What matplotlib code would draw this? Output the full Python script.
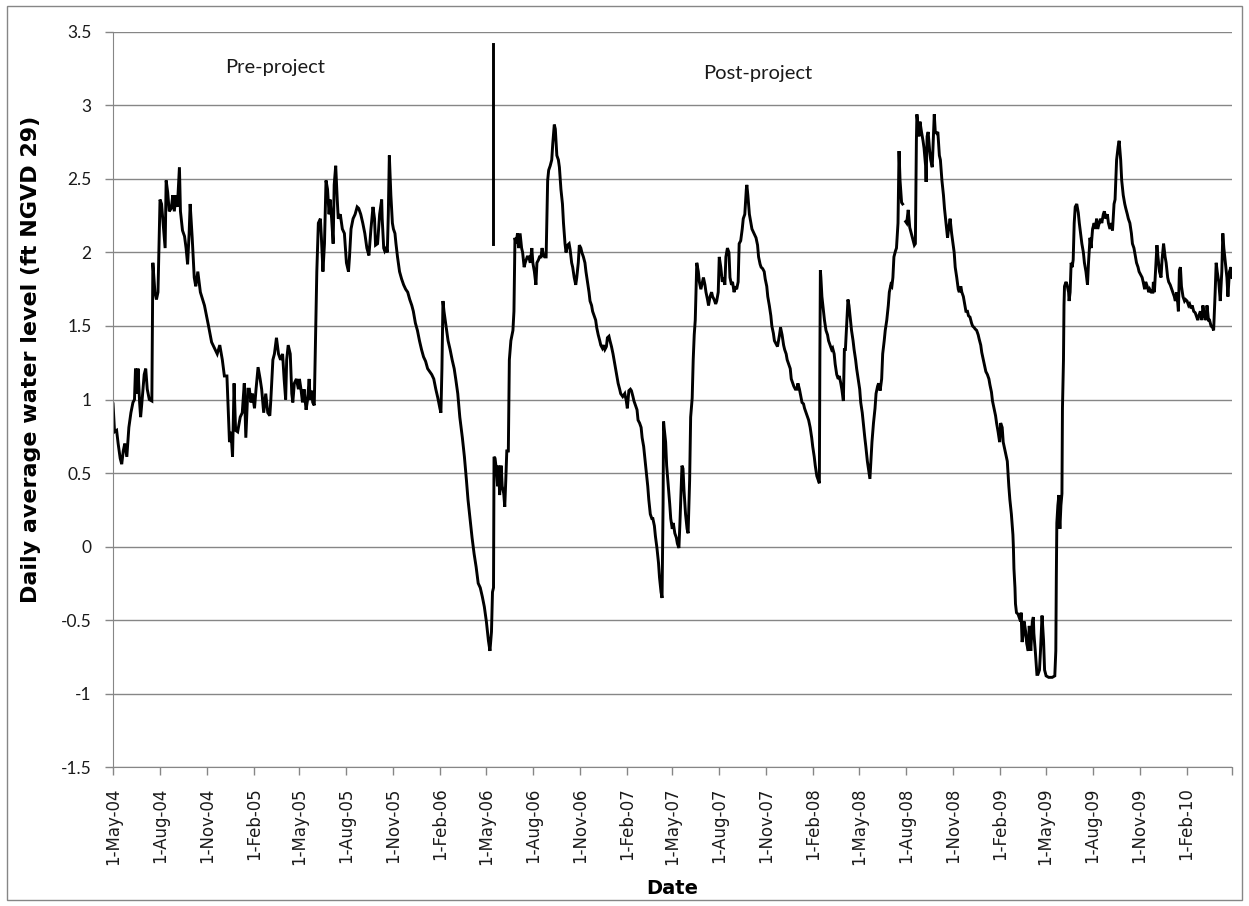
import numpy as np
import pandas as pd
import matplotlib.pyplot as plt
from matplotlib.patches import Rectangle

# Daily average water level, (days since 1-May-2004, ft NGVD 29)
start = np.datetime64("2004-05-01")

pre_project = [
    (0, 0.97), (3, 0.78), (7, 0.79), (10, 0.70), (14, 0.60), (17, 0.56), (20, 0.65), (23, 0.70),
    (27, 0.61), (31, 0.81), (35, 0.91), (39, 0.98), (42, 1.00), (44, 1.21), (47, 1.04), (49, 1.21),
    (52, 0.98), (54, 0.88), (57, 1.00), (61, 1.17), (64, 1.21), (67, 1.07), (71, 1.00), (76, 0.99),
    (78, 1.93), (82, 1.73), (85, 1.68), (88, 1.73), (90, 2.03), (92, 2.36), (95, 2.33), (99, 2.16),
    (102, 2.03), (104, 2.49), (107, 2.41), (110, 2.28), (114, 2.30), (117, 2.39), (120, 2.28),
    (123, 2.39), (126, 2.31), (130, 2.58), (132, 2.28), (136, 2.15), (140, 2.11), (143, 2.03),
    (146, 1.92), (149, 2.13), (151, 2.33), (155, 2.10), (159, 1.83), (162, 1.77), (166, 1.87),
    (171, 1.73), (179, 1.64), (187, 1.50), (193, 1.39), (200, 1.34), (204, 1.31), (209, 1.37),
    (214, 1.27), (218, 1.16), (223, 1.16), (228, 0.71), (231, 0.78), (234, 0.61), (237, 1.11),
    (240, 0.79), (244, 0.78), (249, 0.88), (253, 0.91), (257, 1.11), (260, 0.74), (264, 1.07),
    (267, 1.07), (270, 0.98), (273, 1.04), (277, 0.94), (280, 1.07), (284, 1.22), (288, 1.14),
    (291, 1.07), (295, 0.91), (299, 1.04), (303, 0.91), (307, 0.89), (309, 1.00), (313, 1.27),
    (316, 1.31), (320, 1.42), (324, 1.31), (328, 1.27), (332, 1.31), (335, 1.14), (338, 1.00),
    (340, 1.27), (343, 1.37), (347, 1.31), (350, 1.04), (352, 0.98), (355, 1.11), (359, 1.14),
    (363, 1.07), (365, 1.14), (368, 1.07), (371, 0.98), (374, 1.07), (378, 0.93), (381, 1.00),
    (384, 1.14), (386, 1.00), (389, 1.06), (391, 0.98), (394, 0.96), (397, 1.50), (399, 1.87),
    (402, 2.20), (406, 2.23), (408, 2.10), (411, 1.87), (414, 2.06), (417, 2.49), (420, 2.43),
    (423, 2.26), (425, 2.36), (428, 2.23), (431, 2.06), (433, 2.46), (436, 2.59), (439, 2.36),
    (441, 2.23), (445, 2.26), (449, 2.16), (453, 2.13), (457, 1.93), (461, 1.87), (463, 1.97),
    (466, 2.16), (470, 2.23), (474, 2.26), (478, 2.31), (481, 2.30), (485, 2.26), (489, 2.20),
    (493, 2.13), (497, 2.03), (501, 1.98), (505, 2.16), (509, 2.31), (512, 2.23), (514, 2.05),
    (518, 2.06), (522, 2.26), (526, 2.36), (527, 2.23), (530, 2.03), (532, 2.01), (535, 2.03),
    (537, 2.00), (539, 2.26), (541, 2.66), (544, 2.39), (547, 2.20), (549, 2.16), (552, 2.13),
    (554, 2.06), (557, 1.97), (561, 1.87), (565, 1.82), (569, 1.78), (573, 1.75), (577, 1.73),
    (581, 1.68), (585, 1.64), (588, 1.60), (592, 1.52), (596, 1.47), (600, 1.40), (604, 1.34),
    (608, 1.29), (612, 1.26), (616, 1.21), (620, 1.19), (624, 1.17), (628, 1.14), (632, 1.07),
    (636, 1.01), (640, 0.94), (642, 0.91), (644, 1.21), (646, 1.67), (648, 1.60), (652, 1.50),
    (656, 1.40), (660, 1.34), (664, 1.27), (668, 1.21), (671, 1.14), (675, 1.04), (679, 0.88),
    (684, 0.74), (688, 0.61), (692, 0.45), (695, 0.32), (699, 0.19), (703, 0.06), (707, -0.05),
    (711, -0.14), (715, -0.25), (719, -0.28), (723, -0.34), (727, -0.41), (731, -0.51),
    (735, -0.64), (738, -0.71), (741, -0.58), (743, -0.31), (745, -0.28),
]

# single spike reading at the start of the project
spike = [(744, 2.06), (744, 3.42)]

post_project_a = [
    (746, 0.61), (748, 0.60), (751, 0.51), (753, 0.41), (755, 0.55), (757, 0.35), (760, 0.55),
    (762, 0.41), (765, 0.36), (767, 0.27), (769, 0.45), (771, 0.65), (774, 0.65), (776, 1.27),
    (779, 1.40), (783, 1.47), (785, 1.60), (787, 2.10), (789, 2.06), (792, 2.13), (794, 2.03),
    (797, 2.13), (800, 2.03), (802, 2.00), (805, 1.90), (807, 1.93), (811, 1.97), (814, 1.97),
    (817, 1.93), (820, 2.03), (822, 1.93), (825, 1.87), (828, 1.78), (830, 1.93), (833, 1.95),
    (835, 1.97), (838, 1.97), (840, 2.03), (843, 1.98), (845, 1.97), (848, 1.97), (851, 2.49),
    (853, 2.56), (856, 2.59), (859, 2.63), (861, 2.74), (864, 2.87), (866, 2.84), (869, 2.66),
    (872, 2.63), (874, 2.58), (877, 2.43), (880, 2.33), (882, 2.20), (885, 2.06), (887, 2.00),
    (890, 2.05), (893, 2.06), (895, 2.02), (898, 1.93), (900, 1.90), (903, 1.83), (906, 1.78),
    (908, 1.83), (911, 1.93), (913, 2.05), (916, 2.03), (918, 2.00), (921, 1.97), (924, 1.93),
    (926, 1.87), (929, 1.80), (932, 1.73), (934, 1.67), (937, 1.64), (939, 1.60), (942, 1.57),
    (945, 1.54), (947, 1.49), (950, 1.44), (953, 1.40), (955, 1.37), (958, 1.35), (960, 1.37),
    (963, 1.34), (966, 1.36), (968, 1.42), (971, 1.43), (973, 1.40), (976, 1.36), (979, 1.31),
    (981, 1.27), (984, 1.21), (986, 1.17), (989, 1.11), (992, 1.07), (994, 1.04), (998, 1.02),
    (1002, 1.04), (1005, 0.99), (1007, 0.94), (1010, 1.06), (1013, 1.07), (1015, 1.06),
    (1018, 1.02), (1020, 0.99), (1023, 0.96), (1026, 0.93), (1028, 0.86), (1031, 0.84),
    (1034, 0.81), (1036, 0.74), (1039, 0.68), (1041, 0.61), (1044, 0.51), (1047, 0.41),
    (1049, 0.32), (1052, 0.22), (1055, 0.19), (1057, 0.19), (1060, 0.14), (1062, 0.07),
    (1065, -0.01), (1068, -0.11), (1070, -0.21), (1073, -0.31), (1075, -0.35), (1077, 0.29),
    (1078, 0.85), (1079, 0.81), (1082, 0.71), (1084, 0.55), (1087, 0.42), (1090, 0.29),
    (1092, 0.19), (1095, 0.12), (1097, 0.16), (1100, 0.09), (1103, 0.06), (1105, 0.02),
    (1108, -0.01), (1110, 0.16), (1113, 0.45), (1114, 0.55), (1116, 0.53), (1118, 0.38),
    (1121, 0.22), (1124, 0.12), (1126, 0.09), (1129, 0.45), (1131, 0.88), (1134, 1.01),
    (1136, 1.27), (1138, 1.44), (1140, 1.54), (1143, 1.93), (1146, 1.87), (1148, 1.80),
    (1151, 1.75), (1154, 1.80), (1156, 1.83), (1159, 1.78), (1161, 1.73), (1164, 1.68),
    (1166, 1.64), (1169, 1.70), (1172, 1.73), (1174, 1.70), (1177, 1.68), (1180, 1.65),
    (1182, 1.67), (1185, 1.73), (1187, 1.97), (1190, 1.90), (1193, 1.80), (1195, 1.83),
    (1198, 1.78), (1200, 1.97), (1203, 2.03), (1206, 2.00), (1208, 1.83), (1211, 1.78),
    (1213, 1.80), (1216, 1.73), (1219, 1.77), (1221, 1.75), (1224, 1.80), (1226, 2.06),
    (1229, 2.08), (1232, 2.16), (1234, 2.23), (1237, 2.26), (1240, 2.43), (1241, 2.46),
    (1243, 2.39), (1246, 2.26), (1249, 2.20), (1251, 2.16), (1255, 2.13), (1259, 2.10),
    (1262, 2.05), (1264, 1.97), (1267, 1.92), (1269, 1.90), (1272, 1.89), (1275, 1.87),
    (1277, 1.82), (1280, 1.77), (1282, 1.70), (1285, 1.64), (1288, 1.57), (1290, 1.50),
    (1293, 1.45), (1295, 1.40), (1298, 1.38), (1301, 1.36), (1305, 1.44), (1307, 1.49),
    (1310, 1.44), (1313, 1.37), (1315, 1.34), (1318, 1.31), (1320, 1.27), (1323, 1.24),
    (1326, 1.21), (1328, 1.14), (1331, 1.11), (1333, 1.09), (1336, 1.07), (1339, 1.07),
    (1341, 1.11), (1344, 1.07), (1349, 0.98), (1352, 0.97), (1354, 0.94), (1357, 0.91),
    (1360, 0.88), (1362, 0.86), (1365, 0.81), (1368, 0.74), (1370, 0.68), (1373, 0.61),
    (1375, 0.55), (1378, 0.48), (1381, 0.45), (1383, 0.43), (1384, 1.27), (1385, 1.88),
    (1386, 1.83), (1388, 1.70), (1391, 1.60), (1393, 1.54), (1396, 1.47), (1399, 1.44),
    (1401, 1.40), (1404, 1.37), (1407, 1.34), (1409, 1.35), (1412, 1.31), (1414, 1.24),
    (1417, 1.17), (1420, 1.14), (1422, 1.16), (1425, 1.11), (1427, 1.07), (1430, 0.99),
    (1432, 1.34), (1434, 1.34), (1437, 1.54), (1439, 1.68), (1441, 1.64), (1443, 1.57),
    (1446, 1.47), (1449, 1.40), (1451, 1.34), (1454, 1.27), (1456, 1.21), (1459, 1.14),
    (1462, 1.07), (1464, 0.98), (1467, 0.91), (1469, 0.84), (1472, 0.74), (1474, 0.68),
    (1477, 0.58), (1480, 0.51), (1482, 0.46), (1484, 0.58), (1486, 0.71), (1489, 0.84),
    (1492, 0.94), (1494, 1.04), (1497, 1.09), (1499, 1.11), (1502, 1.06), (1505, 1.14),
    (1507, 1.31), (1510, 1.40), (1512, 1.47), (1515, 1.54), (1518, 1.64), (1520, 1.73),
    (1523, 1.78), (1525, 1.77), (1527, 1.83), (1529, 1.97), (1532, 2.01), (1534, 2.03),
    (1537, 2.20), (1539, 2.69), (1541, 2.49), (1544, 2.34), (1546, 2.33),
]

# readings resume after a short gap
post_project_b = [
    (1552, 2.21), (1554, 2.20), (1557, 2.29), (1560, 2.17), (1563, 2.13), (1566, 2.09),
    (1569, 2.05), (1571, 2.06), (1573, 2.76), (1574, 2.94), (1576, 2.87), (1578, 2.79),
    (1580, 2.89), (1583, 2.82), (1586, 2.76), (1588, 2.71), (1591, 2.59), (1592, 2.48),
    (1594, 2.79), (1596, 2.82), (1599, 2.69), (1601, 2.63), (1604, 2.58), (1606, 2.76),
    (1608, 2.94), (1610, 2.82), (1613, 2.81), (1615, 2.82), (1618, 2.66), (1620, 2.63),
    (1623, 2.49), (1626, 2.39), (1628, 2.30), (1631, 2.20), (1634, 2.10), (1636, 2.16),
    (1639, 2.23), (1642, 2.13), (1644, 2.08), (1647, 2.00), (1649, 1.90), (1652, 1.83),
    (1655, 1.75), (1657, 1.73), (1660, 1.77), (1662, 1.73), (1665, 1.70), (1668, 1.64),
    (1670, 1.60), (1673, 1.60), (1675, 1.57), (1678, 1.56), (1681, 1.52), (1683, 1.50),
    (1686, 1.49), (1688, 1.48), (1691, 1.47), (1694, 1.44), (1696, 1.41), (1699, 1.37),
    (1701, 1.32), (1704, 1.27), (1707, 1.22), (1709, 1.19), (1712, 1.17), (1715, 1.14),
    (1717, 1.10), (1720, 1.05), (1722, 0.99), (1725, 0.94), (1728, 0.89), (1730, 0.84),
    (1733, 0.78), (1736, 0.71), (1738, 0.84), (1741, 0.81), (1743, 0.71), (1746, 0.66),
    (1748, 0.63), (1751, 0.58), (1754, 0.41), (1756, 0.32), (1759, 0.22), (1762, 0.08),
    (1763, -0.01), (1764, -0.15), (1766, -0.28), (1767, -0.39), (1769, -0.45), (1772, -0.46),
    (1774, -0.48), (1777, -0.51), (1778, -0.45), (1780, -0.65), (1782, -0.60), (1784, -0.51),
    (1787, -0.58), (1789, -0.66), (1792, -0.71), (1794, -0.54), (1797, -0.71), (1800, -0.51),
    (1802, -0.48), (1803, -0.59), (1806, -0.72), (1809, -0.87), (1811, -0.87), (1814, -0.84),
    (1816, -0.71), (1819, -0.47), (1822, -0.64), (1824, -0.84), (1827, -0.88), (1832, -0.89),
    (1839, -0.89), (1844, -0.88), (1846, -0.71), (1847, -0.21), (1848, 0.16), (1850, 0.28),
    (1852, 0.35), (1853, 0.19), (1854, 0.12), (1856, 0.28), (1858, 0.36), (1859, 0.94),
    (1861, 1.27), (1862, 1.64), (1863, 1.77), (1866, 1.80), (1868, 1.78), (1871, 1.73),
    (1872, 1.67), (1874, 1.73), (1876, 1.93), (1878, 1.90), (1880, 1.95), (1882, 2.20),
    (1884, 2.31), (1887, 2.33), (1890, 2.27), (1892, 2.20), (1897, 2.06), (1900, 2.00),
    (1902, 1.93), (1905, 1.87), (1908, 1.78), (1910, 1.93), (1913, 2.10), (1915, 2.03),
    (1918, 2.16), (1921, 2.20), (1923, 2.16), (1926, 2.23), (1928, 2.16), (1931, 2.20),
    (1934, 2.23), (1936, 2.20), (1939, 2.26), (1941, 2.28), (1944, 2.23), (1947, 2.26),
    (1949, 2.20), (1952, 2.16), (1955, 2.20), (1957, 2.15), (1960, 2.33), (1962, 2.36),
    (1965, 2.63), (1968, 2.72), (1970, 2.76), (1973, 2.63), (1975, 2.49), (1978, 2.39),
    (1981, 2.33), (1983, 2.30), (1986, 2.26), (1988, 2.23), (1991, 2.20), (1994, 2.13),
    (1996, 2.06), (1999, 2.03), (2002, 1.97), (2004, 1.93), (2007, 1.90), (2009, 1.87),
    (2012, 1.85), (2015, 1.83), (2017, 1.80), (2020, 1.75), (2022, 1.80), (2025, 1.77),
    (2028, 1.73), (2030, 1.75), (2033, 1.73), (2036, 1.73), (2037, 1.80), (2039, 1.73),
    (2042, 1.93), (2044, 2.05), (2046, 1.97), (2049, 1.87), (2052, 1.83), (2054, 1.95),
    (2057, 2.06), (2060, 1.97), (2062, 1.93), (2065, 1.83), (2067, 1.80), (2070, 1.78),
    (2073, 1.75), (2075, 1.73), (2078, 1.70), (2080, 1.67), (2083, 1.73), (2086, 1.60),
    (2088, 1.88), (2090, 1.90), (2092, 1.77), (2095, 1.70), (2098, 1.67), (2100, 1.68),
    (2103, 1.67), (2106, 1.64), (2108, 1.65), (2111, 1.62), (2113, 1.64), (2116, 1.60),
    (2119, 1.59), (2121, 1.57), (2124, 1.54), (2126, 1.57), (2129, 1.60), (2132, 1.54),
    (2134, 1.64), (2137, 1.57), (2140, 1.54), (2142, 1.64), (2145, 1.54), (2147, 1.54),
    (2150, 1.50), (2153, 1.49), (2155, 1.47), (2158, 1.73), (2160, 1.93), (2162, 1.87),
    (2165, 1.80), (2168, 1.67), (2171, 1.87), (2173, 2.13), (2175, 2.03), (2178, 1.93),
    (2181, 1.83), (2183, 1.70), (2186, 1.87), (2189, 1.90), (2191, 1.83),
]

y_ticks = [-1.5, -1, -0.5, 0, 0.5, 1, 1.5, 2, 2.5, 3, 3.5]
tick_dates = pd.date_range("2004-05-01", "2010-05-01", freq="3MS")


def to_xy(points):
    days = np.array([p[0] for p in points])
    vals = np.array([p[1] for p in points])
    return start + days.astype("timedelta64[D]"), vals


grey = "#868686"
fig = plt.figure(figsize=(12.49, 9.06), dpi=100)
ax = fig.add_axes([0.0905, 0.1534, 0.8959, 0.8113])

# pre-project and first post-project stretch are one continuous record
x1, y1 = to_xy(pre_project + post_project_a)
x2, y2 = to_xy(post_project_b)
xs, ys = to_xy(spike)
for x, y in [(x1, y1), (x2, y2), (xs, ys)]:
    ax.plot(x, y, color="black", lw=2.1, solid_joinstyle="miter")

ax.set_xlim(tick_dates[0], tick_dates[-1])
ax.set_ylim(-1.5, 3.5)
ax.set_yticks(y_ticks)
ax.set_yticklabels([f"{v:g}" for v in y_ticks], fontsize=12.5, family=["Lato", "DejaVu Sans"])
ax.set_xticks(tick_dates)
labels = [f"{d.day}-{d.strftime('%b-%y')}" for d in tick_dates]
labels[-1] = ""
ax.set_xticklabels(labels, rotation=90, fontsize=12, family="DejaVu Sans")

ax.grid(axis="y", color=grey, lw=1)
ax.set_axisbelow(True)
for side in ["top", "right"]:
    ax.spines[side].set_visible(False)
for side in ["left", "bottom"]:
    ax.spines[side].set_color(grey)
ax.tick_params(axis="both", color=grey, length=5.5, width=1, labelcolor="#1a1a1a")
ax.tick_params(axis="y", pad=10)
ax.tick_params(axis="x", pad=9)

ax.set_ylabel("Daily average water level (ft NGVD 29)", fontsize=16, fontweight="bold")
ax.yaxis.set_label_coords(-0.064, 0.554)
ax.set_xlabel("Date", fontsize=14, fontweight="bold")
ax.xaxis.set_label_coords(0.4996, -0.153)

ax.text(0.145, 0.952, "Pre-project", transform=ax.transAxes, ha="center", va="center",
        fontsize=14.5, family=["Lato", "DejaVu Sans"], color="#1a1a1a")
ax.text(0.576, 0.944, "Post-project", transform=ax.transAxes, ha="center", va="center",
        fontsize=14.5, family=["Lato", "DejaVu Sans"], color="#1a1a1a")

# chart border
fig.patches.append(Rectangle((7 / 1249, 1 - 900 / 906), 1235 / 1249, 894 / 906,
                             transform=fig.transFigure, fill=False, edgecolor=grey, lw=1))

fig.savefig("out.png", dpi=100)
